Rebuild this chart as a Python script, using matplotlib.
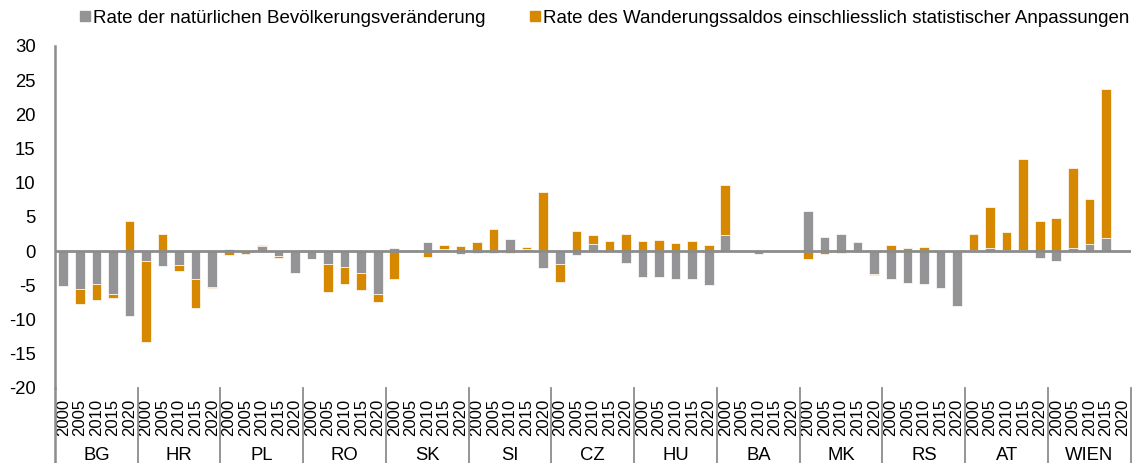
import numpy as np
import matplotlib.pyplot as plt
import matplotlib.transforms as mtransforms
from matplotlib.lines import Line2D

plt.rcParams['font.family'] = ['Liberation Sans', 'DejaVu Sans']
plt.rcParams['axes.unicode_minus'] = False

countries = ["BG", "HR", "PL", "RO", "SK", "SI", "CZ", "HU", "BA", "MK", "RS", "AT", "WIEN"]
years = ["2000", "2005", "2010", "2015", "2020"]

# Rate der natürlichen Bevölkerungsveränderung (je Land 2000..2020)
natural = [
    [-5.1, -5.5, -4.8, -6.25, -9.5],   # BG
    [-1.5, -2.2, -2.05, -4.05, -5.3],  # HR
    [0.3, 0.05, 0.8, -0.7, -3.2],      # PL
    [-1.1, -1.95, -2.3, -3.2, -6.2],   # RO
    [0.45, 0.2, 1.3, 0.3, -0.45],      # SK
    [-0.25, -0.3, 1.75, 0.35, -2.5],   # SI
    [-1.85, -0.6, 1.0, 0.05, -1.8],    # CZ
    [-3.75, -3.85, -4.05, -4.05, -4.9],  # HU
    [2.4, 0.0, -0.45, 0.0, 0.0],       # BA
    [5.9, 2.0, 2.5, 1.3, -3.3],        # MK
    [-4.0, -4.6, -4.8, -5.4, -8.0],    # RS
    [0.15, 0.4, 0.15, 0.2, -0.95],     # AT
    [-1.4, 0.4, 1.0, 1.9, 0.0],        # WIEN
]

# Rate des Wanderungssaldos einschliesslich statistischer Anpassungen
migration = [
    [0.0, -2.2, -2.3, -0.6, 4.4],      # BG
    [-11.8, 2.5, -0.9, -4.25, -0.15],  # HR
    [-0.5, -0.4, 0.15, -0.35, 0.0],    # PL
    [-0.1, -4.0, -2.5, -2.5, -1.2],    # RO
    [-4.1, 0.0, -0.9, 0.6, 0.75],      # SK
    [1.4, 3.2, -0.3, 0.25, 8.7],       # SI
    [-2.7, 3.0, 1.4, 1.5, 2.5],        # CZ
    [1.55, 1.65, 1.2, 1.45, 0.9],      # HU
    [7.3, 0.0, 0.0, 0.0, 0.0],         # BA
    [-1.2, -0.4, -0.3, -0.15, -0.25],  # MK
    [0.9, 0.45, 0.6, 0.0, 0.0],        # RS
    [2.3, 6.1, 2.65, 13.3, 4.4],       # AT
    [4.8, 11.7, 6.6, 21.8, 0.0],       # WIEN
]

grey = "#949497"
orange = "#D58800"
axis_col = "#8C8C8C"

nat = np.array(natural).ravel()
mig = np.array(migration).ravel()
x = np.arange(len(nat))
ny = len(years)

# Excel-artige Stapelung: positive nach oben, negative nach unten
mig_bottom = np.where(np.sign(mig) == np.sign(nat), nat, 0.0)

fig = plt.figure(figsize=(11.41, 4.63), dpi=100)
ax = fig.add_axes([0.0482, 0.162, 0.9428, 0.739])

ax.bar(x, nat, width=0.58, color=grey, edgecolor="white", linewidth=0.5, zorder=2)
ax.bar(x, mig, bottom=mig_bottom, width=0.58, color=orange, edgecolor="white", linewidth=0.5, zorder=2)

ax.axhline(0, color=axis_col, linewidth=2, zorder=3)

ax.set_xlim(-0.5, len(nat) - 0.5)
ax.set_ylim(-20, 30)
ax.set_yticks(np.arange(-20, 31, 5))
ax.tick_params(axis="y", length=0, pad=14, labelsize=13.3)

ax.set_xticks(x)
ax.set_xticklabels(years * len(countries), rotation=90, fontsize=12)
ax.tick_params(axis="x", length=0, pad=8)

for s in ["top", "right", "bottom"]:
    ax.spines[s].set_visible(False)
ax.spines["left"].set_color(axis_col)
ax.spines["left"].set_linewidth(1.8)

# Gruppentrenner und Ländernamen unter der Achse
trans = mtransforms.blended_transform_factory(ax.transData, fig.transFigure)
for i in range(len(countries) + 1):
    xb = i * ny - 0.5
    lw = 1.8 if i == 0 else 1.3
    ax.add_line(Line2D([xb, xb], [0.0, 0.162], transform=trans, color=axis_col,
                       linewidth=lw, clip_on=False))
for i, c in enumerate(countries):
    ax.text(i * ny + (ny - 1) / 2, 0.017, c, transform=trans, ha="center", va="center",
            fontsize=13.3)

handles = [
    Line2D([], [], marker="s", linestyle="none", markersize=7.5, color=grey),
    Line2D([], [], marker="s", linestyle="none", markersize=7.5, color=orange),
]
labels = ["Rate der natürlichen Bevölkerungsveränderung",
          "Rate des Wanderungssaldos einschliesslich statistischer Anpassungen"]
fig.legend(handles, labels, loc="center", bbox_to_anchor=(0.530, 0.961), ncol=2,
           frameon=False, fontsize=13.5, handlelength=0.55, handletextpad=0.12,
           columnspacing=2.4, borderpad=0)

fig.savefig("out.png", dpi=100)
